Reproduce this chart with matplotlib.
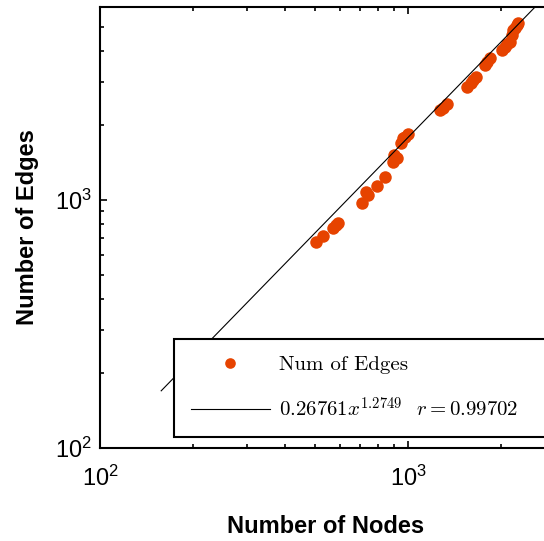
import numpy as np
import matplotlib
matplotlib.use('Agg')
import matplotlib.pyplot as plt
from matplotlib.font_manager import FontProperties

# data
nodes = [502, 531, 569, 594, 707, 743, 795, 844, 892, 900, 947, 961, 998,
         1270, 1335, 1558, 1622, 1663, 1778, 1846, 2015, 2065, 2144, 2171,
         2198, 2254, 2281, 585, 732, 918, 975, 1300, 1600, 1810, 2100, 2230]
edges = [675, 718, 769, 810, 970, 1047, 1142, 1238, 1427, 1515, 1693, 1774, 1845,
         2307, 2432, 2864, 3047, 3124, 3502, 3727, 4026, 4153, 4347, 4626,
         4847, 5077, 5158, 790, 1080, 1470, 1800, 2360, 2950, 3600, 4250, 4950]

fit_a = 0.26761
fit_b = 1.2749
fit_r = 0.99702
fit_x = [158, 2900]

plt.rcParams['font.family'] = ['Liberation Sans', 'DejaVu Sans']

fig = plt.figure(figsize=(5.44, 5.41), dpi=100)
ax = fig.add_axes([100/544, 93/541, 452/544, 441/541])

fx = np.array(fit_x, dtype=float)
ax.plot(nodes, edges, 'o', color='#E64300', markersize=9, markeredgewidth=0,
        label='Num of Edges')
ax.plot(fx, fit_a * fx ** fit_b, '-', color='black', lw=0.8,
        label=r'$0.26761x^{1.2749}$  $r = 0.99702$')

ax.set_xscale('log')
ax.set_yscale('log')
ax.set_xlim(100, 2934)
ax.set_ylim(100, 6000)

for s in ax.spines.values():
    s.set_linewidth(1.5)
ax.tick_params(which='both', direction='in', top=True, right=True, width=1.2)
ax.tick_params(which='major', length=5, labelsize=17)
ax.tick_params(axis='x', which='major', pad=13)
ax.tick_params(axis='y', which='major', pad=6)
ax.tick_params(which='minor', length=3)

ax.set_xlabel('Number of Nodes', fontsize=17, fontweight='bold', labelpad=17)
ax.set_ylabel('Number of Edges', fontsize=17, fontweight='bold', labelpad=11)

leg_font = FontProperties(family='cmr10', size=15, math_fontfamily='cm')
leg = ax.legend(loc='lower left', bbox_to_anchor=(74/452, 11/441, 0.85, 0.23),
                mode='expand', prop=leg_font, handlelength=3.8, handletextpad=0.45,
                labelspacing=1.05, borderpad=0.8, borderaxespad=0, fancybox=False,
                framealpha=1, edgecolor='black', markerscale=0.85)
leg.get_frame().set_linewidth(1.5)

fig.savefig('out.png', dpi=100)
